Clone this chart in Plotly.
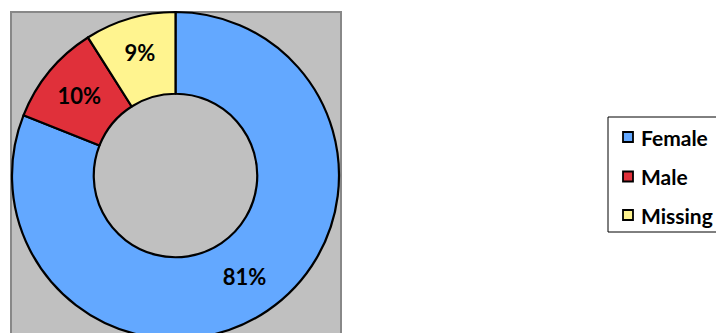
import plotly.graph_objects as go

labels = ["Female", "Male", "Missing"]
values = [81, 10, 9]
colors = ["#63A8FF", "#E0303A", "#FFF48F"]

W, H = 716, 340

def px(x):
    return x / W

def py(y):
    return 1 - y / H

cx, cy, r = 175.5, 175.5, 163.5

fig = go.Figure()
fig.add_trace(go.Pie(
    labels=labels, values=values, hole=0.5, sort=False, direction="clockwise",
    rotation=0,
    marker=dict(colors=colors, line=dict(color="black", width=2.2)),
    textinfo="percent", texttemplate="%{percent:.0%}",
    textposition="inside", insidetextorientation="horizontal",
    textfont=dict(family="Lato", size=22, color="black", weight="bold"),
    domain=dict(x=[px(cx - r), px(cx + r)], y=[py(cy + r), py(cy - r)]),
    showlegend=False, hoverinfo="skip",
))

shapes = [
    dict(type="rect", xref="paper", yref="paper", layer="below",
         x0=px(11), x1=px(341), y0=py(360), y1=py(12),
         fillcolor="#C0C0C0", line=dict(color="#888888", width=2)),
    dict(type="rect", xref="paper", yref="paper", layer="below",
         x0=px(608), x1=px(740), y0=py(232), y1=py(117),
         fillcolor="white", line=dict(color="black", width=1)),
]
annotations = []
ys = [137, 176.5, 215]
for lab, col, yc in zip(labels, colors, ys):
    shapes.append(dict(type="rect", xref="paper", yref="paper",
                       x0=px(623), x1=px(633), y0=py(yc + 5), y1=py(yc - 5),
                       fillcolor=col, line=dict(color="black", width=1.8)))
    annotations.append(dict(text=lab, xref="paper", yref="paper",
                            x=px(639), y=py(yc), xanchor="left", yanchor="middle",
                            showarrow=False,
                            font=dict(family="Lato", size=21, color="black", weight="bold")))

fig.update_layout(
    width=W, height=H, margin=dict(l=0, r=0, t=0, b=0),
    paper_bgcolor="white", plot_bgcolor="white",
    shapes=shapes, annotations=annotations, showlegend=False,
)

fig.write_html("out.html", post_script="document.documentElement.style.overflow='hidden';document.body.style.overflow='hidden';")
